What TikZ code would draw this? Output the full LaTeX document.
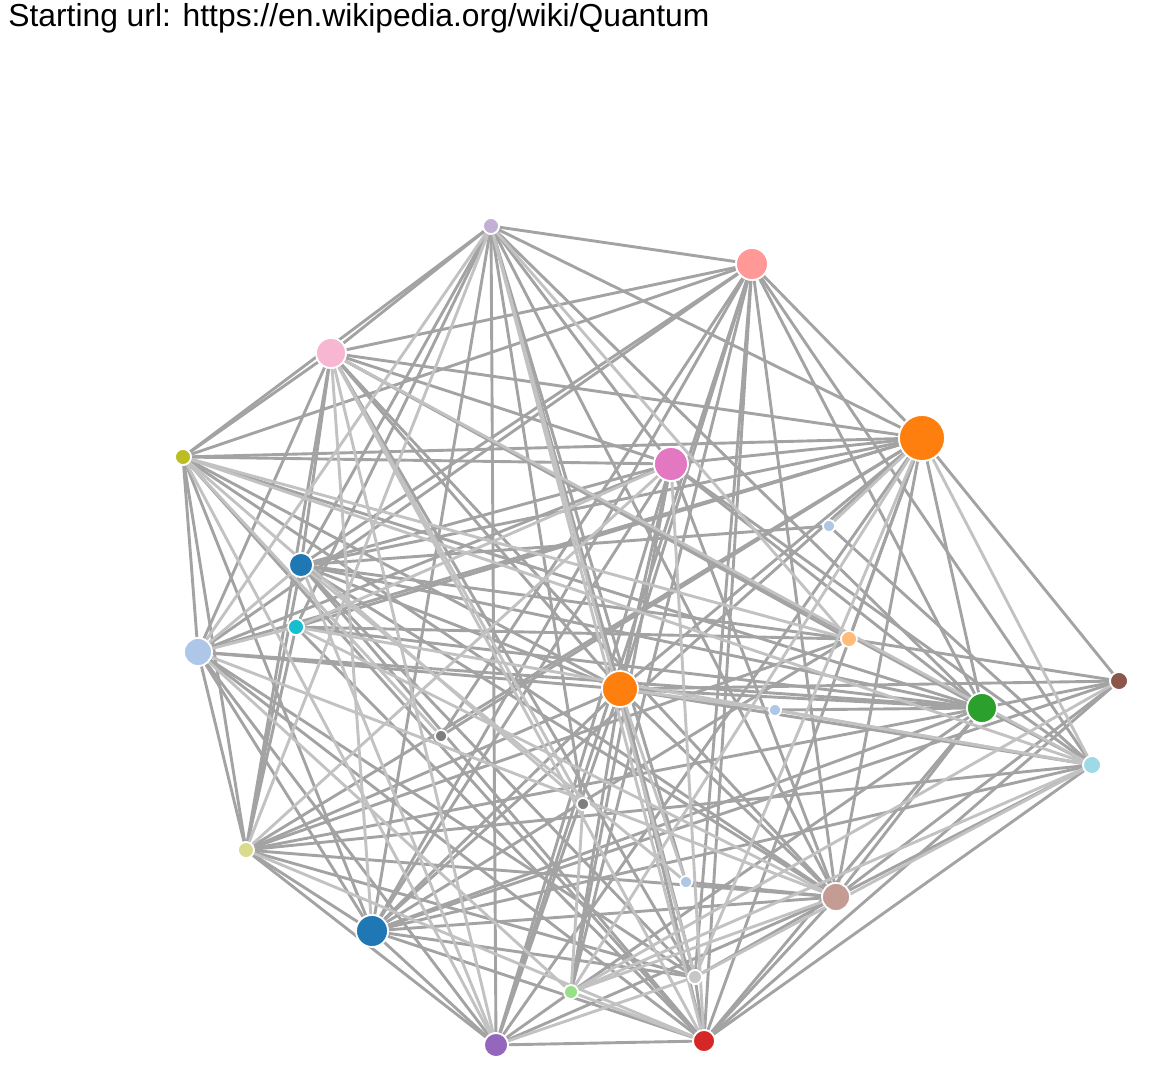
\documentclass[tikz,border=0pt]{standalone}
\usepackage{fontspec}
\setmainfont{Liberation Sans}
\usetikzlibrary{backgrounds}
\definecolor{cLav}{HTML}{C5B0D5}
\definecolor{cSal}{HTML}{FF9896}
\definecolor{cPnk}{HTML}{F7B6D2}
\definecolor{cOra}{HTML}{FF7F0E}
\definecolor{cOlv}{HTML}{BCBD22}
\definecolor{cMag}{HTML}{E377C2}
\definecolor{cLbl}{HTML}{AEC7E8}
\definecolor{cBlu}{HTML}{1F77B4}
\definecolor{cCyn}{HTML}{17BECF}
\definecolor{cLor}{HTML}{FFBB78}
\definecolor{cBrn}{HTML}{8C564B}
\definecolor{cGrn}{HTML}{2CA02C}
\definecolor{cGry}{HTML}{7F7F7F}
\definecolor{cLcy}{HTML}{9EDAE5}
\definecolor{cKha}{HTML}{DBDB8D}
\definecolor{cRbr}{HTML}{C49C94}
\definecolor{cLgr}{HTML}{C7C7C7}
\definecolor{cLgn}{HTML}{98DF8A}
\definecolor{cPur}{HTML}{9467BD}
\definecolor{cRed}{HTML}{D62728}
\definecolor{cLink}{HTML}{A3A3A3}
\definecolor{cLinkl}{HTML}{C2C2C2}
\tikzset{
  page/.style={x=0.02cm,y=-0.02cm},
  pt/.style={circle,draw=white,line width=0.035cm,inner sep=0pt,minimum size=#1*0.04cm},
  link/.style={draw=cLink,line width=0.058cm},
  linkl/.style={draw=cLinkl,line width=0.058cm}
}
\begin{document}
\begin{tikzpicture}[page]
\useasboundingbox (0,0) rectangle (1154,1084);
\node[anchor=base west,inner sep=0pt,font=\fontsize{18.1}{21}\selectfont] (title) at (8,27) {Starting url: https://en.wikipedia.org/wiki/Quantum};

% pages
\node[pt=8,fill=cLav] (lav) at (491,226) {};
\node[pt=16,fill=cSal] (sal) at (752,264) {};
\node[pt=15,fill=cPnk] (pnk) at (331,353) {};
\node[pt=23,fill=cOra] (orB) at (922,438) {};
\node[pt=8,fill=cOlv] (olv) at (183,457) {};
\node[pt=17,fill=cMag] (mag) at (671,464) {};
\node[pt=6,fill=cLbl] (lbA) at (829,526) {};
\node[pt=12,fill=cBlu] (bluA) at (301,565) {};
\node[pt=8,fill=cCyn] (cyn) at (296,627) {};
\node[pt=14,fill=cLbl] (lbB) at (198,652) {};
\node[pt=8,fill=cLor] (lor) at (849,639) {};
\node[pt=18,fill=cOra] (orC) at (620,689) {};
\node[pt=9,fill=cBrn] (brn) at (1119,681) {};
\node[pt=15,fill=cGrn] (grn) at (982,708) {};
\node[pt=6,fill=cLbl] (lbC) at (775,710) {};
\node[pt=6,fill=cGry] (gyA) at (441,736) {};
\node[pt=9,fill=cLcy] (lcy) at (1092,765) {};
\node[pt=6,fill=cGry] (gyB) at (583,804) {};
\node[pt=8,fill=cKha] (kha) at (246,850) {};
\node[pt=6,fill=cLbl] (lbD) at (686,882) {};
\node[pt=14,fill=cRbr] (rbr) at (836,897) {};
\node[pt=16,fill=cBlu] (bluB) at (372,931) {};
\node[pt=7,fill=cLgr] (lgr) at (695,977) {};
\node[pt=7,fill=cLgn] (lgn) at (571,992) {};
\node[pt=12,fill=cPur] (pur) at (496,1045) {};
\node[pt=11,fill=cRed] (red) at (704,1041) {};

% links
\begin{scope}[on background layer]
\foreach \a/\b in {lav/sal,lav/pnk,lav/olv,lav/orB,lav/bluA,lav/cyn,lav/pur,lav/orC,lav/gyB,lav/lbD,lav/rbr,lav/grn,lav/mag,lav/bluB,
  pnk/sal,pnk/olv,pnk/orB,pnk/mag,pnk/grn,pnk/lbB,pnk/bluA,pnk/kha,pnk/orC,pnk/rbr,pnk/lgr,pnk/lor,
  olv/sal,olv/orB,olv/mag,olv/lbB,olv/kha,olv/bluB,olv/orC,olv/rbr,olv/grn,olv/red,
  sal/orB,sal/grn,sal/bluA,sal/lbB,sal/orC,sal/bluB,sal/pur,sal/lgn,sal/red,sal/lgr,sal/rbr,sal/lcy,sal/gyA,
  orB/bluA,orB/cyn,orB/lbB,orB/orC,orB/grn,orB/brn,orB/rbr,orB/red,orB/bluB,orB/kha,orB/mag,orB/lor,orB/gyA,orB/pur,
  mag/bluA,mag/lbB,mag/bluB,mag/pur,mag/lgn,mag/orC,mag/grn,mag/lcy,mag/rbr,
  lbA/bluA,lbA/lcy,
  bluA/orC,bluA/grn,bluA/lor,bluA/rbr,bluA/lgr,bluA/red,bluA/kha,
  cyn/lor,cyn/grn,cyn/red,cyn/kha,
  lbB/orC,lbB/grn,lbB/kha,lbB/bluB,lbB/pur,lbB/red,lbB/lgr,
  lor/brn,lor/kha,lor/bluB,
  orC/grn,orC/brn,orC/lcy,orC/rbr,orC/red,orC/lgr,orC/pur,orC/bluB,orC/kha,orC/lgn,
  brn/grn,brn/rbr,brn/red,brn/bluB,
  grn/lbC,grn/lcy,grn/rbr,grn/red,grn/bluB,grn/kha,grn/lgn,
  lcy/kha,lcy/rbr,lcy/red,lcy/bluB,
  kha/rbr,kha/bluB,kha/pur,kha/lgr,
  rbr/lbD,rbr/bluB,rbr/red,rbr/lgr,rbr/pur,
  bluB/lgr,bluB/pur,bluB/red,
  pur/red,pur/lgn,lgr/red}
  \draw[link] (\a) -- (\b);
\foreach \a/\b in {lav/lbB,lav/kha,lav/red,lav/lgr,lav/lor,
  pnk/bluB,pnk/red,pnk/pur,pnk/gyB,pnk/lcy,
  olv/gyB,olv/pur,olv/lor,olv/lcy,
  orB/lgr,orB/lgn,orB/lcy,orB/lbA,
  mag/cyn,mag/kha,mag/red,
  bluA/lbD,bluA/pur,bluA/lbB,
  cyn/rbr,cyn/lcy,
  lbB/rbr,lbB/lgn,lbB/cyn,
  orC/lbC,orC/lbD,
  lbC/lcy,gyA/olv,
  lcy/lgr,lcy/lgn,
  kha/red,brn/lgn,
  rbr/lgn,lgn/red,lgn/gyB,lgr/pur}
  \draw[linkl] (\a) -- (\b);
\end{scope}
\end{tikzpicture}
\end{document}
